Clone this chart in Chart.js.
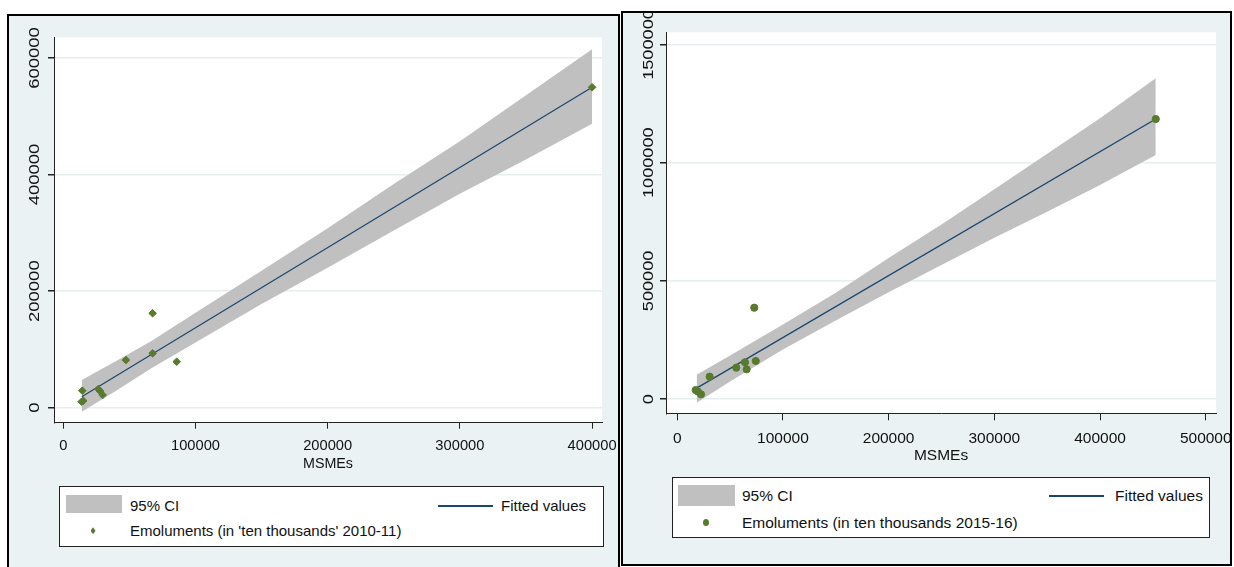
<!DOCTYPE html>
<html lang="en">
<head>
<meta charset="UTF-8">
<title>MSMEs and Emoluments</title>
<script src="https://cdn.jsdelivr.net/npm/chart.js"></script>
<style>
  html, body { margin: 0; padding: 0; overflow: hidden; background: #fff; width: 1234px; height: 567px; }
  body { font-family: "Liberation Sans", Arial, sans-serif; color: #111; }
  .panel { position: absolute; box-sizing: border-box; border: 2px solid #000; background: #eaf2f3; overflow: hidden; }
  .wrap { position: absolute; left: 0; top: 0; }
  .legend { position: absolute; box-sizing: border-box; border: 1px solid #222; background: #fff; }
  .swatch { position: absolute; background: #c0c0c0; }
  .lg { position: absolute; line-height: 18px; white-space: nowrap; }
  .fline { position: absolute; height: 1.5px; background: #1a476f; }
  .diamond { position: absolute; width: 5px; height: 7px; background: #587a2c; clip-path: polygon(50% 0, 100% 50%, 50% 100%, 0 50%); }
  .dot { position: absolute; width: 6px; height: 7px; border-radius: 50%; background: #587a2c; }
</style>
</head>
<body>
<div class="panel" style="left:7px;top:14px;width:613px;height:560px">
  <div class="wrap" style="width:609px;height:554px"><canvas id="chart2010"></canvas></div>
</div>
<div class="panel" style="left:621px;top:11px;width:611px;height:555px">
  <div class="wrap" style="width:607px;height:551px"><canvas id="chart2015"></canvas></div>
</div>

<!-- legend, left panel -->
<div class="legend" style="left:59px;top:486px;width:545px;height:61px"></div>
<div class="swatch" style="left:66px;top:495px;width:56px;height:18px"></div>
<div class="lg" style="left:130px;top:496.7px;font-size:15px">95% CI</div>
<div class="diamond" style="left:90.5px;top:527.2px"></div>
<div class="lg" style="left:130px;top:521.7px;font-size:15px">Emoluments (in 'ten thousands' 2010-11)</div>
<div class="fline" style="left:438px;top:505px;width:55px"></div>
<div class="lg" style="left:501px;top:496.7px;font-size:15px">Fitted values</div>

<!-- legend, right panel -->
<div class="legend" style="left:672px;top:477px;width:538px;height:61px"></div>
<div class="swatch" style="left:678px;top:485px;width:57px;height:21px"></div>
<div class="lg" style="left:742px;top:486.7px;font-size:15.5px">95% CI</div>
<div class="dot" style="left:702.5px;top:519.2px"></div>
<div class="lg" style="left:742px;top:513.7px;font-size:15.5px">Emoluments (in ten thousands 2015-16)</div>
<div class="fline" style="left:1049px;top:495px;width:55px"></div>
<div class="lg" style="left:1115px;top:486.7px;font-size:15.5px">Fitted values</div>

<script>
// 2010-11 panel
const msme2010 = [13900, 15100, 14400, 26500, 27800, 29800, 47400, 67600, 67600, 85800, 400000];
const emol2010 = [10300, 12000, 29200, 32100, 28700, 21800, 81800, 162000, 93300, 78900, 549700];
const fitX2010 = [14000, 400000];
const fitY2010 = [19000, 549700];
const ciX2010 = [14000, 40000, 67000, 100000, 150000, 200000, 250000, 300000, 350000, 400000];
const ciHi2010 = [47500, 80000, 115000, 163000, 235000, 308000, 384000, 457000, 536000, 615000];
const ciLo2010 = [-6900, 29000, 68000, 112000, 178000, 240000, 304000, 367000, 426000, 487000];
const xTicks2010 = [0, 100000, 200000, 300000, 400000];
const yTicks2010 = [0, 200000, 400000, 600000];

// 2015-16 panel
const msme2015 = [17500, 19500, 22500, 30700, 55900, 64100, 65700, 72900, 74300, 452700];
const emol2015 = [38500, 32000, 20300, 94800, 132800, 155700, 126100, 386600, 161200, 1184800];
const fitX2015 = [18400, 452700];
const fitY2015 = [46000, 1184800];
const ciX2015 = [18400, 50000, 100000, 150000, 200000, 250000, 300000, 350000, 400000, 452700];
const ciHi2015 = [103000, 184000, 316000, 450000, 597000, 739000, 888000, 1038000, 1188000, 1357000];
const ciLo2015 = [-15000, 74000, 210000, 332000, 452000, 567000, 683000, 793000, 906000, 1032500];
const xTicks2015 = [0, 100000, 200000, 300000, 400000, 500000];
const yTicks2015 = [0, 500000, 1000000, 1500000];

const GREEN = '#587a2c';
const NAVY = '#1a476f';
const CI_GRAY = '#c0c0c0';
const FONT = '"Liberation Sans", Arial, sans-serif';

function pairs(xs, ys) {
    return xs.map((x, i) => ({ x: x, y: ys[i] }));
}

// white plot region on the bluish panel
const plotBg = {
    id: 'plotBg',
    beforeDraw(chart) {
        const a = chart.chartArea;
        chart.ctx.save();
        chart.ctx.fillStyle = '#fff';
        chart.ctx.fillRect(a.left, a.top, a.right - a.left, a.bottom - a.top);
        chart.ctx.restore();
    }
};

// Stata style vertical y labels
const yLabels = {
    id: 'yLabels',
    afterDraw(chart, args, o) {
        const s = chart.scales.y;
        const ctx = chart.ctx;
        ctx.save();
        ctx.font = o.size + 'px ' + FONT;
        ctx.fillStyle = '#111';
        ctx.textAlign = 'center';
        ctx.textBaseline = 'middle';
        s.ticks.forEach(t => {
            ctx.save();
            ctx.translate(o.x, s.getPixelForValue(t.value));
            ctx.rotate(-Math.PI / 2);
            ctx.scale(o.stretch, 1);
            ctx.fillText(String(t.value), 0, 0);
            ctx.restore();
        });
        ctx.restore();
    }
};

function buildChart(id, c) {
    return new Chart(document.getElementById(id), {
        type: 'scatter',
        data: {
            datasets: [
                {
                    label: c.pointLabel,
                    data: pairs(c.xs, c.ys),
                    pointStyle: c.pointStyle,
                    pointRadius: c.radius,
                    backgroundColor: GREEN,
                    borderColor: GREEN,
                    borderWidth: 1
                },
                {
                    label: 'Fitted values',
                    data: pairs(c.fitX, c.fitY),
                    showLine: true,
                    borderColor: NAVY,
                    borderWidth: c.lineW,
                    pointRadius: 0
                },
                {
                    label: '95% CI',
                    data: pairs(c.ciX, c.ciHi),
                    showLine: true,
                    borderColor: 'rgba(0,0,0,0)',
                    borderWidth: 0,
                    pointRadius: 0,
                    fill: '+1',
                    backgroundColor: CI_GRAY
                },
                {
                    label: 'ci lower',
                    data: pairs(c.ciX, c.ciLo),
                    showLine: true,
                    borderColor: 'rgba(0,0,0,0)',
                    borderWidth: 0,
                    pointRadius: 0
                }
            ]
        },
        options: {
            responsive: true,
            maintainAspectRatio: false,
            animation: false,
            events: [],
            layout: { padding: c.padding },
            plugins: {
                legend: { display: false },
                tooltip: { enabled: false },
                yLabels: { x: c.yLabelX, size: c.yFont, stretch: c.stretch }
            },
            scales: {
                x: {
                    type: 'linear',
                    min: c.xMin,
                    max: c.xMax,
                    afterBuildTicks: s => { s.ticks = c.xTicks.map(v => ({ value: v })); },
                    afterFit: s => { s.height = c.xAxisH; s.paddingLeft = 0; s.paddingRight = 0; },
                    ticks: {
                        callback: v => String(v),
                        font: { family: FONT, size: c.xFont },
                        color: '#111',
                        padding: c.xPad,
                        maxRotation: 0,
                        autoSkip: false
                    },
                    grid: { drawOnChartArea: false, drawTicks: true, tickLength: c.xTickLen, tickColor: '#222' },
                    border: { display: true, color: '#222', width: 1 },
                    title: { display: true, text: 'MSMEs', font: { family: FONT, size: c.titleFont }, color: '#111', padding: 0 }
                },
                y: {
                    min: c.yMin,
                    max: c.yMax,
                    afterBuildTicks: s => { s.ticks = c.yTicks.map(v => ({ value: v })); },
                    afterFit: s => { s.width = c.yAxisW; },
                    ticks: { display: false },
                    grid: { color: '#e6eef0', lineWidth: 1.5, drawTicks: true, tickLength: 6, tickColor: '#222' },
                    border: { display: true, color: '#222', width: 1 }
                }
            }
        },
        plugins: [plotBg, yLabels]
    });
}

buildChart('chart2010', {
    pointLabel: "Emoluments (in 'ten thousands' 2010-11)",
    xs: msme2010, ys: emol2010,
    fitX: fitX2010, fitY: fitY2010,
    ciX: ciX2010, ciHi: ciHi2010, ciLo: ciLo2010,
    xTicks: xTicks2010, yTicks: yTicks2010,
    pointStyle: 'rectRot', radius: 3.8, lineW: 1.2,
    xMin: -7000, xMax: 407500, yMin: -25700, yMax: 635500,
    padding: { left: 0, right: 16, top: 21.3, bottom: 97 },
    xAxisH: 50.3, yAxisW: 45,
    xFont: 14.7, titleFont: 14.3, xPad: 8.3, xTickLen: 6,
    yLabelX: 26, yFont: 15, stretch: 1.23
});

buildChart('chart2015', {
    pointLabel: 'Emoluments (in ten thousands 2015-16)',
    xs: msme2015, ys: emol2015,
    fitX: fitX2015, fitY: fitY2015,
    ciX: ciX2015, ciHi: ciHi2015, ciLo: ciLo2015,
    xTicks: xTicks2015, yTicks: yTicks2015,
    pointStyle: 'circle', radius: 3.6, lineW: 1.4,
    xMin: -10600, xMax: 509700, yMin: -60100, yMax: 1551600,
    padding: { left: 0, right: 14, top: 19.3, bottom: 98.7 },
    xAxisH: 52, yAxisW: 43,
    xFont: 15.5, titleFont: 15.5, xPad: 8.7, xTickLen: 7,
    yLabelX: 25.8, yFont: 15.5, stretch: 1.17
});
</script>
</body>
</html>
